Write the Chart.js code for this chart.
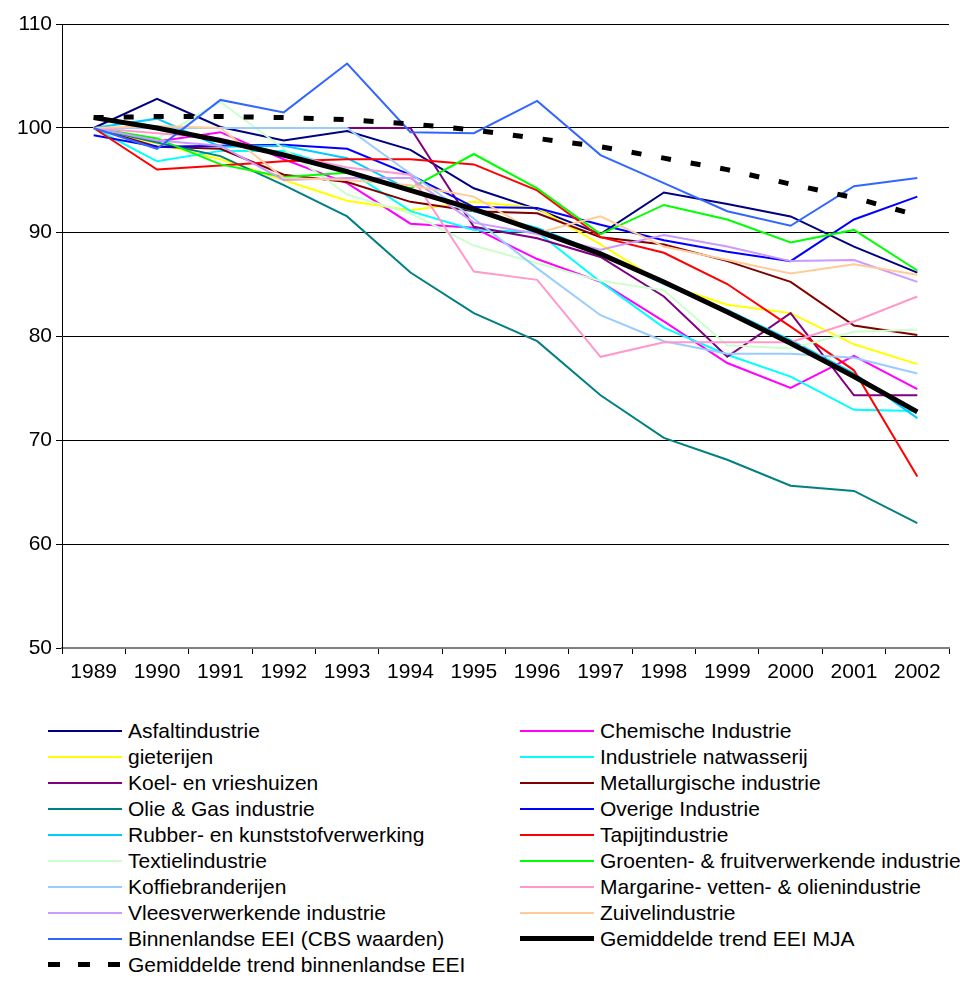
<!DOCTYPE html>
<html><head><meta charset="utf-8">
<script src="https://cdn.jsdelivr.net/npm/chart.js@4/dist/chart.umd.min.js"></script>
<style>
html,body{margin:0;padding:0;background:#fff;}
#wrap{position:relative;width:960px;height:988px;font-family:"Liberation Sans",Arial,sans-serif;}
canvas{position:absolute;left:0;top:0;}
.li{position:absolute;height:26px;line-height:26px;font-size:21px;color:#000;white-space:nowrap;}
.ln{position:absolute;left:0;top:12px;width:74px;height:2px;}
.tx{position:absolute;left:80px;top:0;}
</style></head>
<body><div id="wrap"><canvas id="c" width="960" height="700"></canvas><div id="legend"></div></div>
<script>
const years = ['1989','1990','1991','1992','1993','1994','1995','1996','1997','1998','1999','2000','2001','2002'];
const yTicks = [50, 60, 70, 80, 90, 100, 110];

const asfalt       = [100, 102.8, 100.1, 98.8, 99.7, 97.9, 94.2, 92.2, 89.8, 93.8, 92.7, 91.5, 88.6, 86.1];
const chemisch     = [100, 98.7, 99.6, 97.0, 94.7, 90.8, 90.4, 87.4, 85.2, 81.4, 77.4, 75.0, 78.1, 74.9];
const gieterijen   = [100, 98.5, 97.0, 95.0, 93.0, 92.1, 92.9, 92.3, 88.8, 85.0, 83.0, 82.2, 79.2, 77.3];
const natwasserij  = [100, 96.8, 97.8, 97.8, 96.0, 92.0, 90.2, 90.0, 85.2, 80.8, 78.2, 76.1, 72.9, 72.8];
const koel         = [100, 100, 100, 100, 100, 100, 90.5, 89.4, 87.6, 83.8, 78.0, 82.2, 74.3, 74.3];
const metallurg    = [100, 98.2, 98.0, 95.5, 94.8, 92.9, 92.0, 91.8, 89.5, 88.8, 87.2, 85.2, 81.0, 80.1];
const olieGas      = [100, 98.6, 97.3, 94.5, 91.5, 86.1, 82.2, 79.5, 74.3, 70.2, 68.1, 65.6, 65.1, 62.0];
const overige      = [99.3, 98.2, 98.3, 98.4, 98.0, 95.5, 92.4, 92.3, 90.7, 89.2, 88.1, 87.2, 91.2, 93.4];
const rubber       = [100, 100.9, 98.2, 98.3, 97.1, 94.0, 92.0, 90.4, 88.0, 85.0, 82.5, 79.6, 76.4, 72.1];
const tapijt       = [100, 96.0, 96.4, 96.8, 97.0, 97.0, 96.5, 94.0, 89.5, 88.0, 85.0, 80.9, 76.7, 66.5];
const textiel      = [100, 99.0, 102.5, 98.0, 93.6, 91.8, 88.7, 87.0, 85.3, 84.4, 79.1, 78.8, 80.4, 80.6];
const groenten     = [100, 99.0, 96.5, 95.3, 95.7, 94.2, 97.5, 94.2, 89.8, 92.6, 91.2, 89.0, 90.2, 86.3];
const koffie       = [100, 100, 100, 100, 100, 95.6, 91.3, 86.5, 82.0, 79.5, 78.3, 78.3, 77.9, 76.4];
const margarine    = [100, 99.5, 99.0, 97.5, 96.2, 95.5, 86.2, 85.4, 78.0, 79.4, 79.4, 79.4, 81.4, 83.8];
const vlees        = [100, 98.8, 98.3, 95.0, 95.2, 95.2, 90.9, 89.8, 88.3, 89.7, 88.6, 87.2, 87.3, 85.2];
const zuivel       = [100, 100.2, 100, 95.2, 95.0, 94.5, 93.4, 89.9, 91.5, 88.6, 87.3, 86.0, 86.9, 85.9];
const binnenlandse = [100, 98.0, 102.7, 101.5, 106.2, 99.6, 99.5, 102.6, 97.4, 94.7, 92.0, 90.6, 94.4, 95.2];
const trendMJA     = [101.0, 100.0, 98.8, 97.4, 95.8, 94.0, 92.2, 90.1, 87.9, 85.2, 82.3, 79.3, 76.1, 72.7];
const trendBinnen  = [101.0, 101.1, 101.1, 101.0, 100.8, 100.4, 99.8, 99.0, 98.2, 97.1, 96.0, 94.6, 93.3, 91.6];

const seriesNames = ['Asfaltindustrie','Chemische Industrie','gieterijen','Industriele natwasserij','Koel- en vrieshuizen','Metallurgische industrie','Olie & Gas industrie','Overige Industrie','Rubber- en kunststofverwerking','Tapijtindustrie','Textielindustrie','Groenten- & fruitverwerkende industrie','Koffiebranderijen','Margarine- vetten- & olienindustrie','Vleesverwerkende industrie','Zuivelindustrie','Binnenlandse EEI (CBS waarden)','Gemiddelde trend EEI MJA','Gemiddelde trend binnenlandse EEI'];
const seriesData = [asfalt, chemisch, gieterijen, natwasserij, koel, metallurg, olieGas, overige, rubber, tapijt, textiel, groenten, koffie, margarine, vlees, zuivel, binnenlandse, trendMJA, trendBinnen];
const seriesColors = ['#000080','#FF00FF','#FFFF00','#00FFFF','#800080','#800000','#008080','#0000FF','#00CCFF','#FF0000','#CCFFCC','#00FF00','#99CCFF','#FF99CC','#CC99FF','#FFCC99','#3366FF','#000000','#000000'];

const N = seriesNames.length;
const datasets = seriesNames.map((name, i) => {
  const isTrend = i === 17, isDash = i === 18;
  return {
    label: name,
    data: seriesData[i],
    borderColor: seriesColors[i],
    backgroundColor: seriesColors[i],
    borderWidth: (isTrend || isDash) ? 5 : 2,
    borderDash: isDash ? [10, 20] : [],
    pointRadius: 0,
    tension: 0,
    fill: false,
    order: N - i
  };
});

const font = {family: '"Liberation Sans", Arial, sans-serif', size: 21};
new Chart(document.getElementById('c'), {
  type: 'line',
  data: {labels: years, datasets},
  options: {
    responsive: false,
    animation: false,
    layout: {padding: {top: 24, right: 11, left: 0, bottom: 0}},
    plugins: {legend: {display: false}, tooltip: {enabled: false}},
    scales: {
      x: {
        offset: true,
        grid: {display: true, drawOnChartArea: false, offset: true, tickLength: 6, color: '#000'},
        border: {color: '#808080', width: 2},
        ticks: {color: '#000', font, maxRotation: 0, autoSkip: false, padding: 6},
        afterFit: s => { s.height = 52; }
      },
      y: {
        min: 50, max: 110,
        afterBuildTicks: s => { s.ticks = yTicks.map(v => ({value: v})); },
        grid: {color: '#000', lineWidth: 1, tickLength: 6},
        border: {color: '#000', width: 1},
        ticks: {color: '#000', font, padding: 4},
        afterFit: s => { s.width = 62; }
      }
    }
  }
});

// HTML legend, two columns, row-major
const leg = document.getElementById('legend');
seriesNames.forEach((name, i) => {
  const row = Math.floor(i / 2), col = i % 2;
  const d = document.createElement('div');
  d.className = 'li';
  d.style.left = (col ? 520 : 48) + 'px';
  d.style.top = (718 + row * 26) + 'px';
  const ln = document.createElement('div');
  ln.className = 'ln';
  if (i === 18) {
    ln.style.height = '5px'; ln.style.top = '10px';
    ln.style.background = 'repeating-linear-gradient(90deg,#000 0 12px,transparent 12px 30px)';
  } else if (i === 17) {
    ln.style.height = '5px'; ln.style.top = '10px'; ln.style.background = '#000';
  } else {
    ln.style.background = seriesColors[i];
  }
  const tx = document.createElement('span');
  tx.className = 'tx';
  tx.textContent = name;
  d.appendChild(ln); d.appendChild(tx);
  leg.appendChild(d);
});
</script></body></html>
